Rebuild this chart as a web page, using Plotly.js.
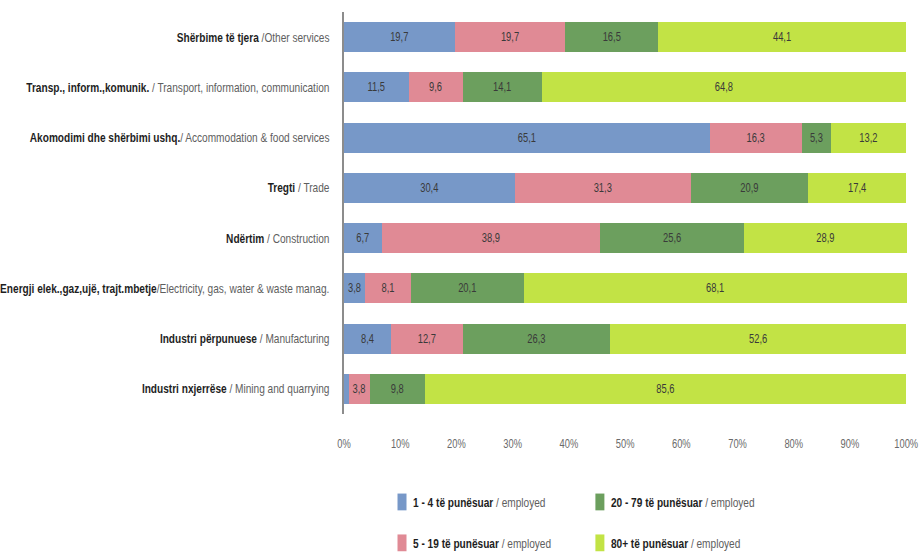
<!DOCTYPE html>
<html>
<head>
<meta charset="utf-8">
<script src="https://cdn.plot.ly/plotly-3.0.1.min.js"></script>
<style>
  html, body { margin: 0; padding: 0; background: #fff; }
  #chart { width: 919px; height: 554px; }
</style>
</head>
<body>
<div id="chart"></div>
<script>
// Sectors, bottom to top (Albanian name in bold, English after the slash)
const sectorsAl = [
  "Industri nxjerrëse",
  "Industri përpunuese",
  "Energji elek.,gaz,ujë, trajt.mbetje",
  "Ndërtim",
  "Tregti",
  "Akomodimi dhe shërbimi ushq.",
  "Transp., inform.,komunik.",
  "Shërbime të tjera"
];
const sectorsEn = [
  " / Mining and quarrying",
  " / Manufacturing",
  "/Electricity, gas, water & waste manag.",
  " / Construction",
  " / Trade",
  "/ Accommodation & food services",
  " / Transport, information, communication",
  " /Other services"
];

// Share of enterprises by size class (%), same order as sectors
const size1to4   = [0.8,  8.4,  3.8,  6.7, 30.4, 65.1, 11.5, 19.7];
const size5to19  = [3.8, 12.7,  8.1, 38.9, 31.3, 16.3,  9.6, 19.7];
const size20to79 = [9.8, 26.3, 20.1, 25.6, 20.9,  5.3, 14.1, 16.5];
const size80plus = [85.6, 52.6, 68.1, 28.9, 17.4, 13.2, 64.8, 44.1];

const classNames = ["1 - 4 të punësuar", "5 - 19 të punësuar", "20 - 79 të punësuar", "80+ të punësuar"];
const xTickVals = [0, 10, 20, 30, 40, 50, 60, 70, 80, 90, 100];
const xTickText = xTickVals.map(v => v + "%");

const colors = ["#7798C8", "#E08A95", "#6C9F5E", "#C2E345"];
const series = [size1to4, size5to19, size20to79, size80plus];
const legendIds = ["legend", "legend", "legend2", "legend2"];

const FONT = "'Liberation Sans', Arial, sans-serif";
const GREY = "#5e5e5e";
const yIdx = sectorsAl.map((_, i) => i);
const yTickText = sectorsAl.map((s, i) =>
  "<b>" + s + "</b><span style='color:" + GREY + "'>" + sectorsEn[i] + "</span>");

// value labels with a decimal comma; the thinnest sliver stays unlabelled
const label = v => v < 1 ? "" : v.toFixed(1).replace(".", ",");

const traces = series.map((vals, k) => ({
  type: "bar",
  orientation: "h",
  x: vals,
  y: yIdx,
  name: "<b>" + classNames[k] + "</b><span style='color:" + GREY + "'> / employed</span>",
  legend: legendIds[k],
  legendgroup: "g" + k,
  marker: { color: colors[k], line: { width: 0 } },
  text: vals.map(label),
  textposition: "inside",
  insidetextanchor: "middle",
  textangle: 0,
  textfont: { family: FONT, size: 12, color: "#3a3a3a" },
  constraintext: "none",
  cliponaxis: false,
  hoverinfo: "skip"
}));

const legendBase = {
  xref: "paper", xanchor: "left",
  y: -0.1816, yanchor: "top",
  orientation: "v",
  traceorder: "grouped",
  tracegroupgap: 21,
  font: { family: FONT, size: 13, color: "#1e1e1e" },
  bgcolor: "rgba(0,0,0,0)"
};

const layout = {
  width: 919,
  height: 554,
  margin: { l: 344, r: 12, t: 12, b: 140, autoexpand: false },
  paper_bgcolor: "#ffffff",
  plot_bgcolor: "#ffffff",
  barmode: "stack",
  bargap: 0.4,
  showlegend: true,
  font: { family: FONT, size: 13, color: "#1e1e1e" },
  xaxis: {
    range: [0, 100.15],
    tickvals: xTickVals,
    ticktext: xTickText,
    showgrid: false,
    zeroline: false,
    showline: false,
    ticks: "",
    ticklabelstandoff: 21,
    ticklabeloverflow: "allow",
    tickfont: { family: FONT, size: 12, color: "#6a6a6a" },
    automargin: false,
    fixedrange: true
  },
  yaxis: {
    range: [-0.5, 7.5],
    tickvals: yIdx,
    ticktext: yTickText,
    showgrid: false,
    zeroline: false,
    showline: true,
    linecolor: "#8c8c8c",
    linewidth: 2,
    ticks: "",
    ticklabelstandoff: 10,
    tickfont: { family: FONT, size: 13, color: "#1e1e1e" },
    automargin: false,
    fixedrange: true
  },
  legend: Object.assign({ x: 0.0675 }, legendBase),
  legend2: Object.assign({ x: 0.419 }, legendBase)
};

// Squeeze a text element horizontally about its anchor, giving a condensed face.
// The transform we set is remembered so a redraw by Plotly gets squeezed again.
function condense(el, s, dx) {
  const cur = el.getAttribute("transform") || "";
  if (el.__squeezed !== undefined && el.__squeezed === cur) return;
  const bb = el.getBBox();
  if (!bb.width) return;
  const anchor = el.getAttribute("text-anchor") || "start";
  const ax = anchor === "end" ? bb.x + bb.width
           : anchor === "middle" ? bb.x + bb.width / 2 : bb.x;
  const next = cur + " translate(" + (ax + (dx || 0)) + ",0) scale(" + s + ",1) translate(" + (-ax) + ",0)";
  el.__squeezed = next;
  el.setAttribute("transform", next);
}

function reshapeSwatch(p) {
  const cur = p.getAttribute("transform") || "";
  if (p.__squeezed !== undefined && p.__squeezed === cur) return;
  const next = cur + " scale(0.75,1.4)";
  p.__squeezed = next;
  p.setAttribute("transform", next);
}

const gd = document.getElementById("chart");
let squeeze = null;

function restyleTexts() {
  const yLabels = Array.from(gd.querySelectorAll(".ytick text"));
  if (!yLabels.length) return;
  if (squeeze === null) {
    const widest = Math.max.apply(null, yLabels.map(t => t.getComputedTextLength()));
    if (!widest) return;
    squeeze = Math.min(1, 330 / widest);
  }
  yLabels.forEach(t => condense(t, squeeze));
  gd.querySelectorAll(".xtick text").forEach(t => condense(t, squeeze));
  gd.querySelectorAll(".bartext").forEach(t => condense(t, squeeze));
  // entries of both legends (legend and legend2)
  gd.querySelectorAll(".infolayer .traces text").forEach(t => condense(t, squeeze, -9));
  gd.querySelectorAll(".infolayer .traces path").forEach(reshapeSwatch);
}

// keep the condensed look through any later redraw of labels or legends
const observer = new MutationObserver(restyleTexts);
observer.observe(gd, { childList: true, subtree: true, attributes: true, attributeFilter: ["transform", "x", "y", "d"] });

Plotly.newPlot(gd, traces, layout, { displayModeBar: false, staticPlot: true }).then(() => {
  restyleTexts();
  gd.on("plotly_afterplot", restyleTexts);
});
</script>
</body>
</html>
